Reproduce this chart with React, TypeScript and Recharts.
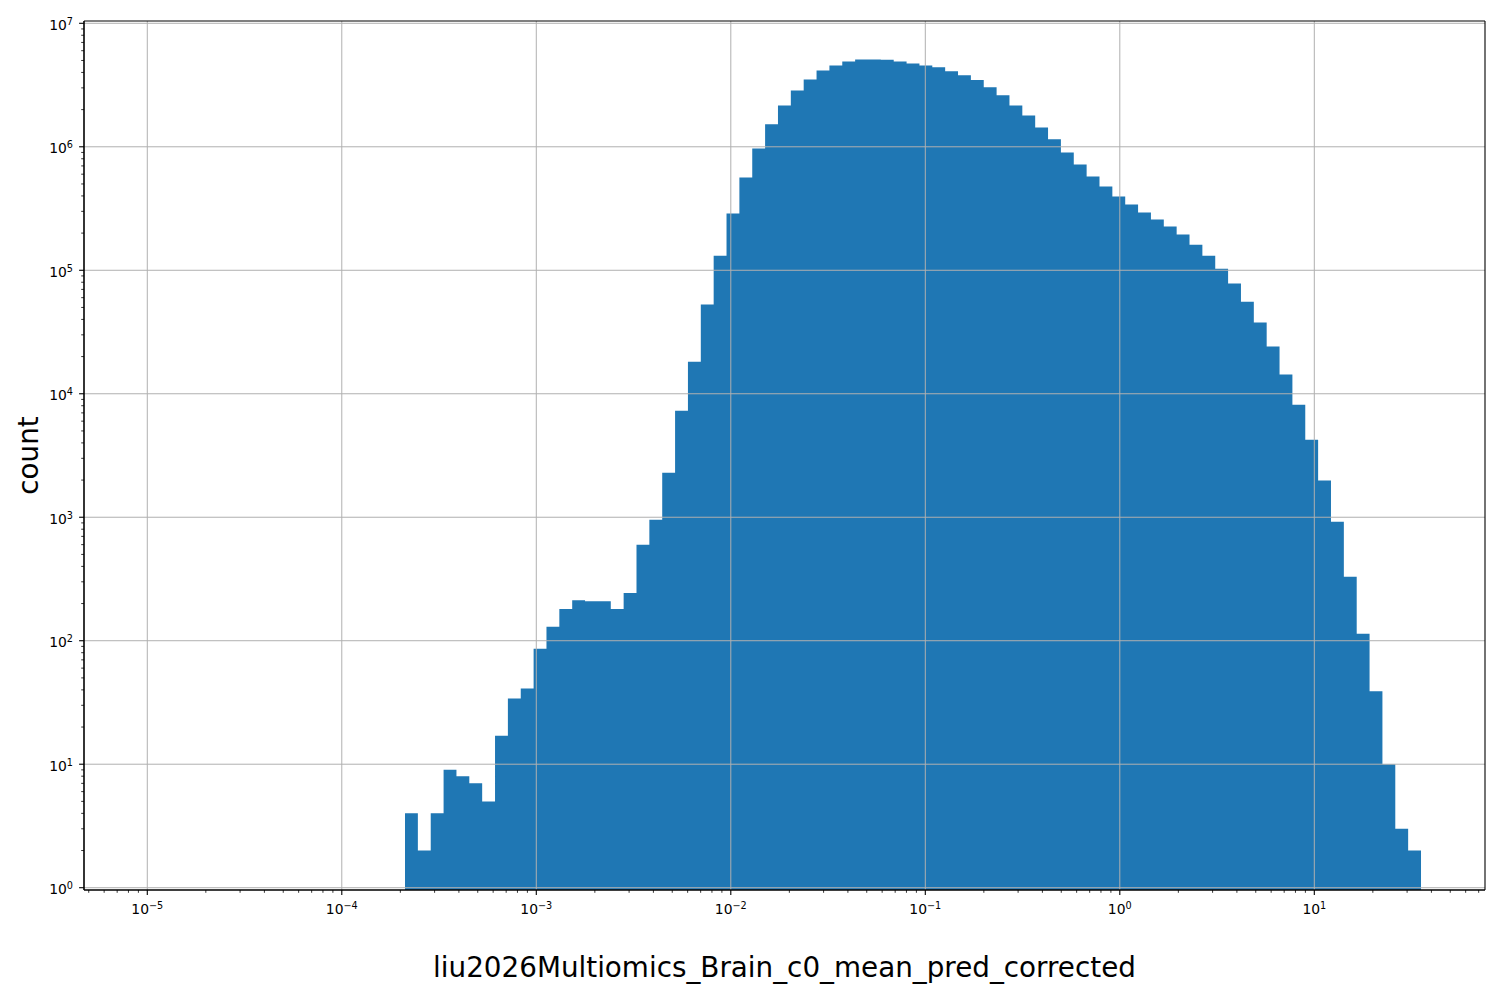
import React from 'react';
import { ComposedChart, Area, XAxis, YAxis, ReferenceLine, Label } from 'recharts';

// Histogram configuration: 79 log-spaced bins
const LOG_BIN_LO = -3.675;
const LOG_BIN_HI = 1.5486;
const N_BINS = 79;

// Counts per bin
const counts: number[] = [
  4, 2, 4, 9, 8, 7, 5, 17, 34, 41,
  86, 130, 181, 213, 209, 209, 181, 244, 598, 955,
  2290, 7280, 18200, 52700, 131000, 288000, 564000, 968000, 1520000, 2160000,
  2860000, 3510000, 4150000, 4560000, 4910000, 5080000, 5080000, 5060000, 4910000, 4730000,
  4560000, 4400000, 4090000, 3800000, 3470000, 3040000, 2620000, 2160000, 1790000, 1430000,
  1150000, 899000, 719000, 575000, 477000, 396000, 341000, 294000, 258000, 226000,
  195000, 161000, 131000, 103000, 78000, 55700, 37700, 24100, 14300, 8150,
  4250, 1980, 919, 330, 114, 39, 10, 3, 2,
];

const xMajorExps: number[] = [-5, -4, -3, -2, -1, 0, 1];
const yMajorExps: number[] = [0, 1, 2, 3, 4, 5, 6, 7];
const minorMultipliers: number[] = [2, 3, 4, 5, 6, 7, 8, 9];

const X_DOMAIN: [number, number] = [Math.pow(10, -5.3254), Math.pow(10, 1.8776)];
const Y_DOMAIN: [number, number] = [Math.pow(10, -0.0186), Math.pow(10, 7.0186)];

const xLabel = 'liu2026Multiomics_Brain_c0_mean_pred_corrected';
const yLabel = 'count';

const FONT = '"DejaVu Sans", sans-serif';
const BLUE = '#1f77b4';
const GRID = '#b0b0b0';

const edges: number[] = Array.from({ length: N_BINS + 1 }, (_, i) =>
  Math.pow(10, LOG_BIN_LO + ((LOG_BIN_HI - LOG_BIN_LO) * i) / N_BINS)
);

const histData = [
  ...counts.map((c, i) => ({ x: edges[i], count: c })),
  { x: edges[N_BINS], count: counts[N_BINS - 1] },
];

function buildTicks(domain: [number, number]) {
  const out: number[] = [];
  const lo = Math.floor(Math.log10(domain[0]));
  const hi = Math.ceil(Math.log10(domain[1]));
  for (let e = lo; e <= hi; e++) {
    const base = Math.pow(10, e);
    out.push(base);
    for (const m of minorMultipliers) out.push(m * base);
  }
  return out.filter((v) => v >= domain[0] && v <= domain[1]).sort((a, b) => a - b);
}

const xTicks = buildTicks(X_DOMAIN);
const yTicks = buildTicks(Y_DOMAIN);
const xMajors = xMajorExps.map((e) => Math.pow(10, e));
const yMajors = yMajorExps.map((e) => Math.pow(10, e));

function majorExp(v: number): number | null {
  const l = Math.log10(v);
  const e = Math.round(l);
  return Math.abs(l - e) < 1e-6 ? e : null;
}

function expText(e: number) {
  return e < 0 ? '\u2212' + String(-e) : String(e);
}

const XTick = (props: any) => {
  const { x, y, payload } = props;
  const e = majorExp(payload.value);
  const major = e !== null;
  return (
    <g>
      <line x1={x} x2={x} y1={y} y2={y + (major ? 4.9 : 2.8)} stroke="#000" strokeWidth={major ? 1.1 : 0.8} />
      {major && (
        <text x={x} y={y + 24} textAnchor="middle" fontFamily={FONT} fontSize={13.9} fill="#000">
          10
          <tspan dy={-5} fontSize={9.7}>{expText(e as number)}</tspan>
        </text>
      )}
    </g>
  );
};

const YTick = (props: any) => {
  const { x, y, payload } = props;
  const e = majorExp(payload.value);
  const major = e !== null;
  return (
    <g>
      <line x1={x} x2={x - (major ? 4.9 : 2.8)} y1={y} y2={y} stroke="#000" strokeWidth={major ? 1.1 : 0.8} />
      {major && (
        <text x={x - 11} y={y + 6.7} textAnchor="end" fontFamily={FONT} fontSize={13.9} fill="#000">
          10
          <tspan dy={-5} fontSize={9.7}>{expText(e as number)}</tspan>
        </text>
      )}
    </g>
  );
};

export default function App() {
  return (
    <div style={{ position: 'absolute', left: 0, top: 0, width: 1500, height: 1000, background: '#fff' }}>
      <ComposedChart width={1500} height={1000} data={histData} margin={{ top: 21, right: 15, bottom: 0, left: 0 }}>
        <XAxis
          dataKey="x"
          type="number"
          scale="log"
          domain={X_DOMAIN}
          allowDataOverflow
          ticks={xTicks}
          interval={0}
          tick={<XTick />}
          tickLine={false}
          tickSize={0}
          tickMargin={0}
          height={110}
          axisLine={{ stroke: '#000', strokeWidth: 1.1 }}
        >
          <Label
            content={(p: any) => {
              const vb = p.viewBox;
              return (
                <text x={vb.x + vb.width / 2} y={vb.y + 87.3} textAnchor="middle" fontFamily={FONT} fontSize={27.8} fill="#000">
                  {xLabel}
                </text>
              );
            }}
          />
        </XAxis>
        <YAxis
          type="number"
          scale="log"
          domain={Y_DOMAIN}
          allowDataOverflow
          ticks={yTicks}
          interval={0}
          tick={<YTick />}
          tickLine={false}
          tickSize={0}
          tickMargin={0}
          width={84}
          axisLine={{ stroke: '#000', strokeWidth: 1.1 }}
        >
          <Label
            content={(p: any) => {
              const vb = p.viewBox;
              const cx = vb.x + 38;
              const cy = vb.y + vb.height / 2;
              return (
                <text x={cx} y={cy} transform={`rotate(-90, ${cx}, ${cy})`} textAnchor="middle" fontFamily={FONT} fontSize={27.8} fill="#000">
                  {yLabel}
                </text>
              );
            }}
          />
        </YAxis>
        <Area
          dataKey="count"
          type="stepAfter"
          baseValue={Y_DOMAIN[0]}
          stroke="none"
          fill={BLUE}
          fillOpacity={1}
          isAnimationActive={false}
          dot={false}
          activeDot={false}
        />
        {xMajors.map((v) => (
          <ReferenceLine key={'gx' + v} x={v} stroke={GRID} strokeWidth={1} />
        ))}
        {yMajors.map((v) => (
          <ReferenceLine key={'gy' + v} y={v} stroke={GRID} strokeWidth={1} />
        ))}
        <ReferenceLine key="spine-top" y={Y_DOMAIN[1]} stroke="#000" strokeWidth={1.1} ifOverflow="visible" />
        <ReferenceLine key="spine-bottom" y={Y_DOMAIN[0]} stroke="#000" strokeWidth={1.1} ifOverflow="visible" />
        <ReferenceLine key="spine-left" x={X_DOMAIN[0]} stroke="#000" strokeWidth={1.1} ifOverflow="visible" />
        <ReferenceLine key="spine-right" x={X_DOMAIN[1]} stroke="#000" strokeWidth={1.1} ifOverflow="visible" />
      </ComposedChart>
    </div>
  );
}
